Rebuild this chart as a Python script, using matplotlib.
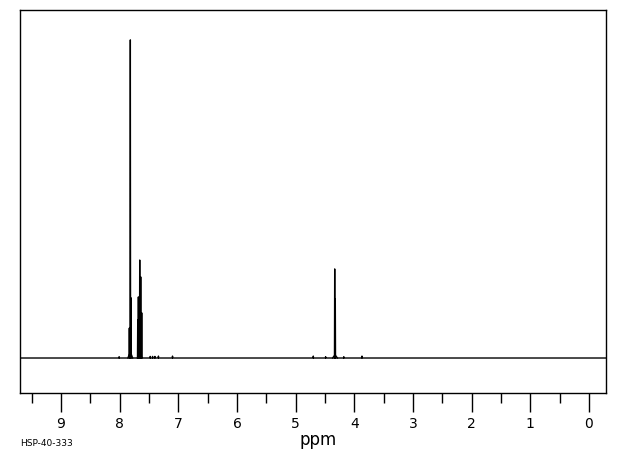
import matplotlib
matplotlib.use('Agg')
import matplotlib.pyplot as plt
from matplotlib.ticker import MultipleLocator

# Peak tips (chemical shift in ppm, relative intensity)
peak_ppm = [8.01, 7.836, 7.819, 7.807, 7.693, 7.682, 7.659, 7.642, 7.625,
            7.48, 7.44, 7.40, 7.34, 7.10, 4.70, 4.49, 4.335, 4.325, 4.18, 3.87]
peak_height = [0.4, 9.4, 100.0, 18.9, 12.0, 19.2, 30.8, 25.5, 14.2,
               0.5, 0.5, 0.5, 0.6, 0.6, 0.6, 0.4, 28.0, 18.6, 0.4, 0.6]

# small broad feet under the multiplets
foot_ppm = [7.82, 7.66, 4.33]
foot_height = [1.5, 1.0, 0.8]

ppm_range = (9.7, -0.29)
major_ticks = [9, 8, 7, 6, 5, 4, 3, 2, 1, 0]

# build the trace: flat baseline with narrow spikes at each peak
pts = [(ppm_range[0], 0.0), (ppm_range[1], 0.0)]
w = 0.004
for p, h in zip(peak_ppm, peak_height):
    pts += [(p + w, 0.0), (p, h), (p - w, 0.0)]
pts.sort(key=lambda t: -t[0])
xs = [t[0] for t in pts]
ys = [t[1] for t in pts]

fig = plt.figure(figsize=(6.2, 4.55), dpi=100)
ax = fig.add_axes([20 / 620, 62 / 455, 586 / 620, 383 / 455])

ax.plot(xs, ys, color='black', linewidth=1.0)
for p, h in zip(foot_ppm, foot_height):
    ax.plot([p + 0.04, p + 0.02, p, p - 0.02, p - 0.04], [0, h * 0.7, h, h * 0.7, 0],
            color='black', linewidth=1.0)

ax.set_xlim(*ppm_range)
ax.set_ylim(-11.0, 109.4)
ax.set_yticks([])
ax.set_xticks(major_ticks)
ax.xaxis.set_minor_locator(MultipleLocator(0.5))
ax.tick_params(axis='x', which='major', length=14, width=1, direction='out',
               labelsize=10, pad=3)
ax.tick_params(axis='x', which='minor', length=7, width=1, direction='out')
for s in ax.spines.values():
    s.set_linewidth(1.0)

fig.text(318 / 620, 1 - 440 / 455, 'ppm', ha='center', va='center', fontsize=12)
fig.text(20 / 620, 1 - 443 / 455, 'HSP-40-333', ha='left', va='center', fontsize=6.5)

fig.savefig('out.png', dpi=100)
